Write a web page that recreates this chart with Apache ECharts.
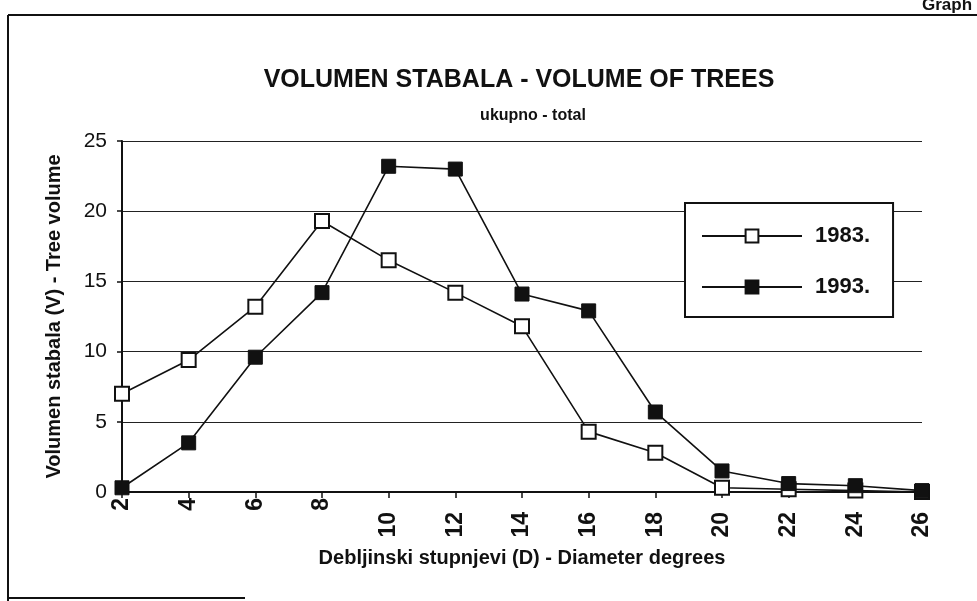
<!DOCTYPE html>
<html>
<head>
<meta charset="utf-8">
<script src="https://cdn.jsdelivr.net/npm/echarts@6/dist/echarts.min.js"></script>
<style>
html,body{margin:0;padding:0;background:#fff;}
#c{width:977px;height:601px;}
</style>
</head>
<body>
<div id="c"></div>
<script>
var diameters = [2, 4, 6, 8, 10, 12, 14, 16, 18, 20, 22, 24, 26];
var vol1983 = [7.0, 9.4, 13.2, 19.3, 16.5, 14.2, 11.8, 4.3, 2.8, 0.3, 0.2, 0.1, 0.0];
var vol1993 = [0.3, 3.5, 9.6, 14.2, 23.2, 23.0, 14.1, 12.9, 5.7, 1.5, 0.6, 0.45, 0.1];
var seriesNames = ['1983.', '1993.'];
var yTicks = [0, 5, 10, 15, 20, 25];

function pairs(vals){ return diameters.map(function(d,i){ return [d, vals[i]]; }); }

var F = 'Liberation Sans, Arial, sans-serif';
var chart = echarts.init(document.getElementById('c'));
chart.setOption({
  backgroundColor: '#fff',
  animation: false,
  title: [
    {text: 'VOLUMEN STABALA - VOLUME OF TREES', left: 514, top: 63, textAlign: 'center',
     textStyle: {fontFamily: F, fontSize: 25, fontWeight: 'bold', color: '#111'}},
    {text: 'ukupno - total', left: 528, top: 103, textAlign: 'center',
     textStyle: {fontFamily: F, fontSize: 16, fontWeight: 'bold', color: '#111'}}
  ],
  legend: {
    orient: 'vertical', left: 685, top: 203,
    padding: [22, 23, 19, 16], itemGap: 29,
    itemWidth: 100, itemHeight: 16,
    borderColor: '#111', borderWidth: 2, backgroundColor: '#fff',
    textStyle: {fontFamily: F, fontSize: 22, fontWeight: 'bold', color: '#111', padding: [0,0,0,8]},
    data: seriesNames
  },
  grid: {left: 122, right: 55, top: 141, bottom: 109},
  xAxis: {
    type: 'value', min: 2, max: 26, interval: 2,
    name: 'Debljinski stupnjevi (D) - Diameter degrees', nameLocation: 'middle', nameGap: 56,
    nameTextStyle: {fontFamily: F, fontSize: 20, fontWeight: 'bold', color: '#111'},
    axisLine: {lineStyle: {color: '#111', width: 2}},
    axisTick: {show: true, length: 6, lineStyle: {color: '#111', width: 1.5}},
    axisLabel: {rotate: 90, margin: 6, fontFamily: F, fontSize: 23, fontWeight: 'bold', color: '#111',
      formatter: function(v){ return v >= 10 ? '{d|' + v + '}' : '{s|' + v + '}'; },
      rich: {
        d: {fontFamily: F, fontSize: 23, fontWeight: 'bold', color: '#111', padding: [0, 14, 0, 0]},
        s: {fontFamily: F, fontSize: 23, fontWeight: 'bold', color: '#111'}
      }},
    splitLine: {show: false}
  },
  yAxis: {
    type: 'value', min: 0, max: 25, interval: 5,
    name: 'Volumen stabala (V) - Tree volume', nameLocation: 'middle', nameGap: 58, nameRotate: 90,
    nameTextStyle: {fontFamily: F, fontSize: 20, fontWeight: 'bold', color: '#111'},
    axisLine: {show: true, lineStyle: {color: '#111', width: 2}},
    axisTick: {show: true, length: 5, lineStyle: {color: '#111', width: 1.5}},
    axisLabel: {margin: 15, fontFamily: F, fontSize: 21, color: '#111',
      formatter: function(v){ return yTicks.indexOf(v) >= 0 ? String(v) : ''; }},
    splitLine: {show: true, lineStyle: {color: '#222', width: 1.2}}
  },
  series: [
    {name: seriesNames[0], type: 'line', data: pairs(vol1983),
     symbol: 'rect', symbolSize: 14, z: 3,
     lineStyle: {color: '#111', width: 1.6},
     itemStyle: {color: '#fff', borderColor: '#111', borderWidth: 2}},
    {name: seriesNames[1], type: 'line', data: pairs(vol1993),
     symbol: 'rect', symbolSize: 14, z: 4,
     lineStyle: {color: '#111', width: 1.6},
     itemStyle: {color: '#111', borderColor: '#111', borderWidth: 1}}
  ],
  graphic: [
    {type: 'line', shape: {x1: 8, y1: 15, x2: 8, y2: 601}, style: {stroke: '#111', lineWidth: 2}},
    {type: 'line', shape: {x1: 8, y1: 15, x2: 977, y2: 15}, style: {stroke: '#111', lineWidth: 2}},
    {type: 'line', shape: {x1: 8, y1: 598, x2: 245, y2: 598}, style: {stroke: '#111', lineWidth: 2}},
    {type: 'text', left: 922, top: -3, style: {text: 'Graph', fontFamily: F, fontSize: 17, fontWeight: 'bold', fill: '#111'}}
  ]
});
</script>
</body>
</html>
